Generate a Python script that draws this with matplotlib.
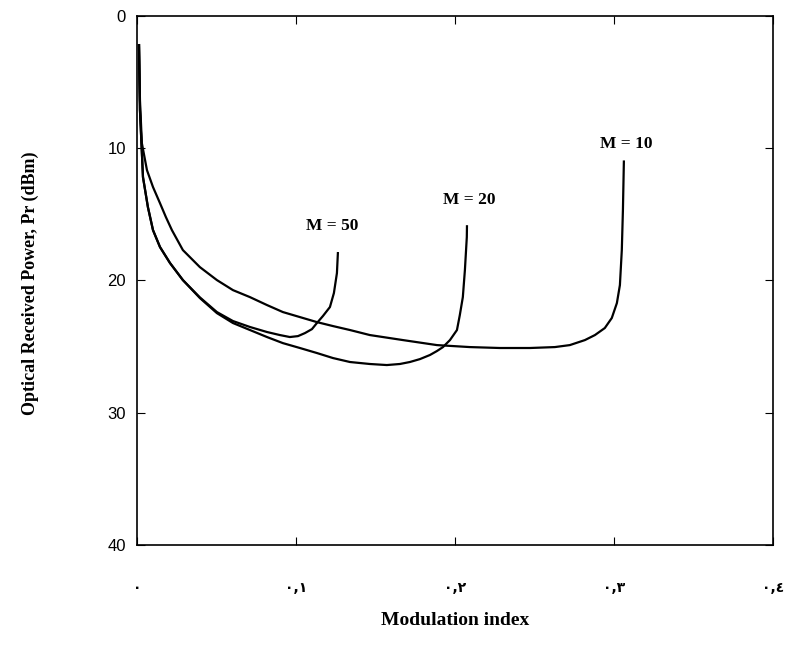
import matplotlib
matplotlib.use("Agg")
import matplotlib.pyplot as plt

# values (y = received power magnitude, dBm)
m10_x = [0.0013, 0.0019, 0.0031, 0.0063, 0.0101, 0.0145, 0.0182, 0.0220, 0.0289, 0.0396,
         0.0503, 0.0604, 0.0711, 0.0818, 0.0918, 0.1025, 0.1132, 0.1233, 0.1340, 0.1465,
         0.1673, 0.1887, 0.2094, 0.2283, 0.2472, 0.2629, 0.2723, 0.2818, 0.2881, 0.2943,
         0.2987, 0.3019, 0.3038, 0.3050, 0.3057, 0.3063]
m10_y = [2.19, 6.35, 9.61, 11.65, 12.93, 14.15, 15.20, 16.19, 17.70, 18.99,
         19.97, 20.73, 21.26, 21.86, 22.39, 22.77, 23.15, 23.45, 23.75, 24.13,
         24.51, 24.89, 25.04, 25.11, 25.11, 25.04, 24.89, 24.51, 24.13, 23.60,
         22.84, 21.71, 20.35, 17.70, 14.67, 11.00]

m20_x = [0.0013, 0.0019, 0.0038, 0.0069, 0.0101, 0.0145, 0.0208, 0.0289, 0.0396, 0.0503,
         0.0604, 0.0711, 0.0818, 0.0918, 0.1025, 0.1132, 0.1233, 0.1340, 0.1465, 0.1572,
         0.1654, 0.1717, 0.1780, 0.1843, 0.1887, 0.1925, 0.1969, 0.2013, 0.2031, 0.2050,
         0.2063, 0.2075, 0.2076]
m20_y = [2.19, 7.11, 12.18, 14.45, 16.19, 17.47, 18.68, 19.97, 21.33, 22.47,
         23.22, 23.75, 24.28, 24.74, 25.11, 25.49, 25.87, 26.17, 26.32, 26.40,
         26.32, 26.17, 25.95, 25.64, 25.34, 25.04, 24.51, 23.75, 22.62, 21.26,
         19.21, 16.72, 15.90]

m50_x = [0.0013, 0.0019, 0.0038, 0.0069, 0.0101, 0.0145, 0.0208, 0.0289, 0.0396, 0.0503,
         0.0604, 0.0711, 0.0818, 0.0899, 0.0962, 0.1013, 0.1057, 0.1101, 0.1132, 0.1170,
         0.1214, 0.1239, 0.1258, 0.1264]
m50_y = [2.19, 7.11, 12.18, 14.45, 16.19, 17.47, 18.68, 19.97, 21.28, 22.39,
         23.07, 23.52, 23.90, 24.13, 24.28, 24.21, 23.98, 23.68, 23.22, 22.69,
         22.01, 20.95, 19.44, 17.93]

x_ticks = [0.0, 0.1, 0.2, 0.3, 0.4]
x_tick_labels = ["٠", "٠,١", "٠,٢", "٠,٣", "٠,٤"]
y_ticks = [0, 10, 20, 30, 40]

fig = plt.figure(figsize=(7.87, 6.47), dpi=100)
ax = fig.add_axes([0.174, 0.158, 0.808, 0.817])

for xs, ys in [(m10_x, m10_y), (m20_x, m20_y), (m50_x, m50_y)]:
    ax.plot(xs, ys, color="black", lw=1.6)

ax.set_xlim(0, 0.4)
ax.set_ylim(40, 0)

ax.set_xticks(x_ticks)
ax.set_xticklabels(x_tick_labels, family="DejaVu Sans", fontweight="bold", fontsize=10)
ax.set_yticks(y_ticks)
ax.set_yticklabels([str(v) for v in y_ticks], family="Liberation Sans", fontsize=12)
ax.tick_params(axis="x", direction="in", length=6, pad=26, top=True)
ax.tick_params(axis="y", direction="in", length=6, pad=8, right=True)

for s in ax.spines.values():
    s.set_linewidth(1.2)

txt = dict(family="Liberation Serif", fontweight="bold", fontsize=12.5, ha="center", va="center")
ax.text(0.123, 15.9, "M = 50", **txt)
ax.text(0.209, 13.9, "M = 20", **txt)
ax.text(0.308, 9.7, "M = 10", **txt)

ax.set_xlabel("Modulation index", family="Liberation Serif", fontweight="bold", fontsize=14, labelpad=12)
fig.text(0.038, 1 - 283 / 647, "Optical Received Power, Pr (dBm)", rotation=90,
         family="Liberation Serif", fontweight="bold", fontsize=13, ha="center", va="center")

fig.savefig("out.png", dpi=100)
